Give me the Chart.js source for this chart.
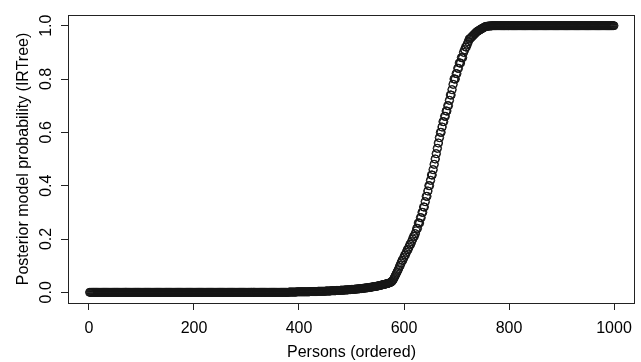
<!DOCTYPE html>
<html>
<head>
<meta charset="utf-8">
<script src="https://cdn.jsdelivr.net/npm/chart.js@4"></script>
<style>
html,body{margin:0;padding:0;background:#fff;}
#wrap{width:641px;height:362px;}
</style>
</head>
<body>
<div id="wrap"><canvas id="c" width="641" height="362"></canvas></div>
<script>
// Persons 1..380: posterior probability essentially 0
const probLowFlat = [
0,0,0,0,0,0,0,0,0,0,0,0,0,0,0,0,0,0,0,0,
0,0,0,0,0,0,0,0,0,0,0,0,0,0,0,0,0,0,0,0,
0,0,0,0,0,0,0,0,0,0,0,0,0,0,0,0,0,0,0,0,
0,0,0,0,0,0,0,0,0,0,0,0,0,0,0,0,0,0,0,0,
0,0,0,0,0,0,0,0,0,0,0,0,0,0,0,0,0,0,0,0,
0,0,0,0,0,0,0,0,0,0,0,0,0,0,0,0,0,0,0,0,
0,0,0,0,0,0,0,0,0,0,0,0,0,0,0,0,0,0,0,0,
0,0,0,0,0,0,0,0,0,0,0,0,0,0,0,0,0,0,0,0,
0,0,0,0,0,0,0,0,0,0,0,0,0,0,0,0,0,0,0,0,
0,0,0,0,0,0,0,0,0,0,0,0,0,0,0,0,0,0,0,0,
0,0,0,0,0,0,0,0,0,0,0,0,0,0,0,0,0,0,0,0,
0,0,0,0,0,0,0,0,0,0,0,0,0,0,0,0,0,0,0,0,
0,0,0,0,0,0,0,0,0,0,0,0,0,0,0,0,0,0,0,0,
0,0,0,0,0,0,0,0,0,0,0,0,0,0,0,0,0,0,0,0,
0,0,0,0,0,0,0,0,0,0,0,0,0,0,0,0,0,0,0,0,
0,0,0,0,0,0,0,0,0,0,0,0,0,0,0,0,0,0,0,0,
0,0,0,0,0,0,0,0,0,0,0,0,0,0,0,0,0,0,0,0,
0,0,0,0,0,0,0,0,0,0,0,0,0,0,0,0,0,0,0,0,
0,0,0,0,0,0,0,0,0,0,0,0,0,0,0,0,0,0,0,0
];
// Persons 381..770: the rising part
const probRise = [
0.001,0.001,0.001,0.001,0.001,0.001,0.001,0.001,0.001,0.001,0.001,0.001,0.001,0.001,0.001,
0.002,0.002,0.002,0.002,0.002,0.002,0.002,0.002,0.002,0.002,0.002,0.002,0.002,0.002,0.002,0.002,0.002,0.002,0.002,0.002,0.002,0.002,0.002,0.002,0.002,
0.003,0.003,0.003,0.003,0.003,0.003,0.003,0.003,0.003,0.003,0.003,0.003,0.003,0.003,0.003,
0.004,0.004,0.004,0.004,0.004,0.004,0.004,0.004,0.004,0.004,0.004,0.004,0.004,0.004,0.004,
0.005,0.005,0.005,0.005,0.005,0.005,0.005,0.005,0.005,0.005,
0.006,0.006,0.006,0.006,0.006,0.006,0.006,0.006,0.006,0.006,
0.007,0.007,0.007,0.007,0.007,0.007,0.007,0.007,
0.008,0.008,0.008,0.008,0.008,0.008,0.008,0.008,
0.009,0.009,0.009,0.009,0.009,0.009,0.009,
0.010,0.010,0.010,0.010,0.010,0.010,
0.011,0.011,0.011,0.011,0.011,0.011,
0.012,0.012,0.012,0.012,0.012,
0.013,0.013,0.013,0.013,0.013,
0.014,0.014,0.014,0.014,
0.015,0.015,0.015,0.015,
0.016,0.016,0.016,0.016,
0.017,0.017,0.017,0.017,
0.018,0.018,0.018,
0.019,0.019,0.019,
0.020,0.020,0.020,
0.021,0.021,0.021,
0.022,0.022,0.022,
0.023,0.023,0.023,
0.024,0.024,
0.025,0.025,0.026,0.026,0.027,0.027,0.028,0.028,0.029,0.029,
0.030,0.030,0.031,0.031,0.032,0.032,0.033,0.033,0.034,0.035,
0.035,0.036,0.037,0.038,
0.039,0.041,0.043,0.046,0.049,
0.053,0.057,0.061,0.065,0.069,0.073,0.077,0.081,0.085,0.089,0.095,0.101,
0.10,0.11,0.11,0.12,0.12,0.12,0.13,0.13,0.14,0.14,0.14,0.15,0.15,0.16,0.16,0.16,
0.17,0.17,0.18,0.18,0.18,0.19,0.19,0.20,0.20,0.21,0.21,0.21,0.22,0.22,0.23,
0.24,0.24,0.24,0.26,0.26,0.26,0.26,0.28,0.28,0.28,0.30,0.30,0.30,
0.32,0.32,0.32,0.34,0.34,0.36,0.36,0.36,0.38,
0.38,0.40,0.40,0.40,0.42,0.42,0.44,0.44,0.44,0.46,
0.46,0.48,0.48,0.50,0.50,0.52,
0.52,0.54,0.54,0.56,0.56,0.58,
0.58,0.60,0.60,0.60,0.62,0.62,0.64,0.64,0.64,0.66,
0.66,0.66,0.68,0.68,0.68,0.70,0.70,0.70,0.72,
0.72,0.74,0.74,0.74,0.76,0.76,0.78,0.78,0.80,
0.80,0.80,0.80,0.82,0.82,0.82,0.84,0.84,0.84,0.86,
0.86,0.86,0.86,0.88,0.88,0.88,0.88,0.90,0.90,
0.91,0.91,0.92,0.92,0.92,0.93,0.93,0.94,0.94,0.95,
0.950,0.952,0.954,0.956,0.958,0.960,0.962,0.964,0.966,0.968,0.970,0.972,0.974,0.976,0.978,
0.979,0.980,0.981,0.983,0.984,0.985,0.986,0.987,0.988,0.990,0.991,0.992,0.993,0.994,0.996,0.997,
0.997,0.997,0.998,0.998,0.998,0.998,0.999,0.999,0.999,0.999,0.999,0.999,1,1,1
];
// Persons 771..1000: posterior probability essentially 1
const probHighFlat = [
1,1,1,1,1,1,1,1,1,1,
1,1,1,1,1,1,1,1,1,1,
1,1,1,1,1,1,1,1,1,1,
1,1,1,1,1,1,1,1,1,1,
1,1,1,1,1,1,1,1,1,1,
1,1,1,1,1,1,1,1,1,1,
1,1,1,1,1,1,1,1,1,1,
1,1,1,1,1,1,1,1,1,1,
1,1,1,1,1,1,1,1,1,1,
1,1,1,1,1,1,1,1,1,1,
1,1,1,1,1,1,1,1,1,1,
1,1,1,1,1,1,1,1,1,1,
1,1,1,1,1,1,1,1,1,1,
1,1,1,1,1,1,1,1,1,1,
1,1,1,1,1,1,1,1,1,1,
1,1,1,1,1,1,1,1,1,1,
1,1,1,1,1,1,1,1,1,1,
1,1,1,1,1,1,1,1,1,1,
1,1,1,1,1,1,1,1,1,1,
1,1,1,1,1,1,1,1,1,1,
1,1,1,1,1,1,1,1,1,1,
1,1,1,1,1,1,1,1,1,1,
1,1,1,1,1,1,1,1,1,1
];
const xTickValues = [0, 200, 400, 600, 800, 1000];
const xTickLabels = ['0', '200', '400', '600', '800', '1000'];
const yTickValues = [0, 0.2, 0.4, 0.6, 0.8, 1.0];
const yTickLabels = ['0.0', '0.2', '0.4', '0.6', '0.8', '1.0'];
const xTitle = 'Persons (ordered)';
const yTitle = 'Posterior model probability (IRTree)';

const prob = probLowFlat.concat(probRise, probHighFlat);
const points = prob.map((v, i) => ({x: i + 1, y: v}));

const FAMILY = '"Liberation Sans", Arial, Helvetica, sans-serif';
const FS = 16;

const boxAndLabels = {
  id: 'boxAndLabels',
  afterDraw(chart) {
    const {ctx, chartArea: a} = chart;
    ctx.save();
    ctx.strokeStyle = '#222';
    ctx.lineWidth = 1;
    ctx.strokeRect(Math.round(a.left) + 0.5, Math.round(a.top) + 0.5,
                   Math.round(a.right - a.left) - 1, Math.round(a.bottom - a.top));
    const ys = chart.scales.y;
    ctx.fillStyle = '#000';
    ctx.font = FS + 'px ' + FAMILY;
    ctx.textAlign = 'center';
    ctx.textBaseline = 'middle';
    yTickValues.forEach((v, i) => {
      const py = ys.getPixelForValue(v);
      ctx.save();
      ctx.translate(47, py);
      ctx.rotate(-Math.PI / 2);
      ctx.fillText(yTickLabels[i], 0, 0);
      ctx.restore();
    });
    ctx.restore();
  }
};

new Chart(document.getElementById('c'), {
  type: 'scatter',
  data: {
    datasets: [{
      data: points,
      pointStyle: 'circle',
      pointRadius: 4,
      pointHoverRadius: 4,
      pointBorderWidth: 1,
      borderColor: '#151515',
      backgroundColor: 'rgba(0,0,0,0)'
    }]
  },
  options: {
    responsive: false,
    animation: false,
    events: [],
    layout: {padding: {top: 15, right: 1, left: 0, bottom: 0}},
    plugins: {legend: {display: false}, tooltip: {enabled: false}},
    scales: {
      x: {
        type: 'linear',
        min: -39.96,
        max: 1039.96,
        afterBuildTicks(s) { s.ticks = xTickValues.map(v => ({value: v})); },
        afterFit(s) { s.height = 59; },
        grid: {drawOnChartArea: false, drawTicks: true, tickLength: 7, tickColor: '#222', tickWidth: 1},
        border: {display: false},
        ticks: {
          autoSkip: false, maxRotation: 0, minRotation: 0, padding: 9, color: '#000',
          font: {size: FS, family: FAMILY},
          callback: (v) => { const i = xTickValues.indexOf(v); return i >= 0 ? xTickLabels[i] : ''; }
        },
        title: {display: true, text: xTitle, color: '#000', font: {size: FS, family: FAMILY}, padding: {top: 1, bottom: 0}}
      },
      y: {
        type: 'linear',
        min: -0.04,
        max: 1.04,
        afterBuildTicks(s) { s.ticks = yTickValues.map(v => ({value: v})); },
        afterFit(s) { s.width = 68; },
        grid: {drawOnChartArea: false, drawTicks: true, tickLength: 7, tickColor: '#222', tickWidth: 1},
        border: {display: false},
        ticks: {display: false},
        title: {display: true, text: yTitle, color: '#000', font: {size: FS, family: FAMILY}, padding: {top: 14, bottom: 0}}
      }
    }
  },
  plugins: [boxAndLabels]
});
</script>
</body>
</html>
